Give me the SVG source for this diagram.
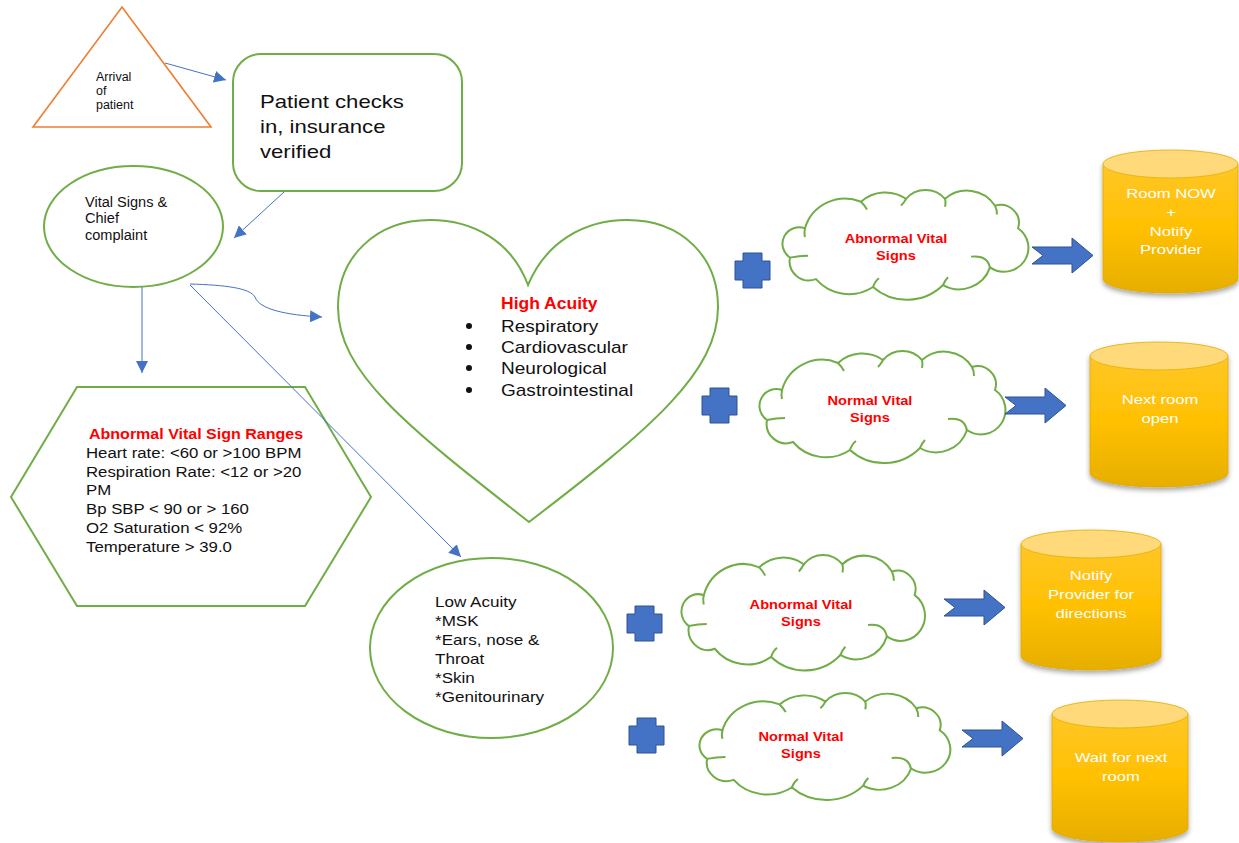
<svg xmlns="http://www.w3.org/2000/svg" width="1239" height="843" viewBox="0 0 1239 843">
<defs>
<style>
.g{fill:#fff;stroke:#70AD47;stroke-width:2}
.t{font-family:"Liberation Sans",Arial,sans-serif;fill:#111}
.red{fill:#FF0000;font-weight:bold}
.w{fill:#fff;font-family:"Liberation Sans",Arial,sans-serif;font-size:13px;text-anchor:middle}
.conn{fill:none;stroke:#4472C4;stroke-width:1}
.plus{fill:#4472C4;stroke:#2F528F;stroke-width:1}
.barrow{fill:#4472C4;stroke:#2F528F;stroke-width:1}
.cl{fill:#fff;stroke:#70AD47;stroke-width:2}
.cli{fill:none;stroke:#70AD47;stroke-width:2}
</style>
<marker id="ah" viewBox="0 0 10 10" refX="10" refY="5" markerWidth="12" markerHeight="12" markerUnits="userSpaceOnUse" orient="auto">
<path d="M0,0 L10,5 L0,10 Z" fill="#4472C4"/>
</marker>
<linearGradient id="cylg" x1="0" y1="0" x2="0" y2="1">
<stop offset="0" stop-color="#FFC728"/>
<stop offset="0.5" stop-color="#FFC000"/>
<stop offset="1" stop-color="#E6AE00"/>
</linearGradient>
<filter id="sh" x="-10%" y="-10%" width="120%" height="130%">
<feDropShadow dx="0" dy="3" stdDeviation="2.5" flood-color="#000" flood-opacity="0.35"/>
</filter>
<path id="cloud" d="M7,69 A16.9 16.9 0 0 1 22,39 A41.5 41.5 0 0 1 78,12 A36 36 0 0 1 123,9 A25.6 25.6 0 0 1 162,9 A33.2 33.2 0 0 1 212,16 A18.3 18.3 0 0 1 235,39 A24.4 24.4 0 0 1 207,79 A32.5 32.5 0 0 1 160,97 A50.7 50.7 0 0 1 90,99 A43.2 43.2 0 0 1 33,91 A19.5 19.5 0 0 1 7,69 Z"/>
<path id="cloudin" d="M7,69 Q16,67 25,67 M22,39 Q21,44 22,48 M78,12 Q82,16 84,20 M123,9 Q121,13 118,16 M162,9 Q163,13 162,17 M212,16 Q214,20 214,25 M188,68 Q205,66 207,80 M160,97 Q162,92 165,89 M90,99 Q92,93 96,90"/>
<path id="plusshape" d="M8,0 H27 V8 H35 V27 H27 V35 H8 V27 H0 V8 H8 Z"/>
<path id="barrowshape" d="M0,9 H40 V0 L61,17.5 L40,35 V26 H0 L11,17.5 Z"/>
</defs>
<rect width="1239" height="843" fill="#fff"/>

<g id="arrival">
<polygon points="122,7 211,127 33,127" fill="#fff" stroke="#ED7D31" stroke-width="1.6"/>
<text class="t" font-size="12" transform="matrix(1.04,0,0,1,-3.84,0)"><tspan x="96" y="81">Arrival</tspan><tspan x="96" y="95">of</tspan><tspan x="96" y="109">patient</tspan></text>
</g>

<g id="checkin">
<rect class="g" x="233" y="54" width="229" height="137" rx="28"/>
<text class="t" font-size="18.6" transform="matrix(1.19,0,0,1,-49.4,0)"><tspan x="260" y="108">Patient checks</tspan><tspan x="260" y="133">in, insurance</tspan><tspan x="260" y="158">verified</tspan></text>
</g>

<g id="vitals">
<ellipse class="g" cx="133.5" cy="226.5" rx="89.5" ry="60.5"/>
<text class="t" font-size="14" transform="matrix(1.04,0,0,1,-3.4,0)"><tspan x="85" y="207">Vital Signs &amp;</tspan><tspan x="85" y="223">Chief</tspan><tspan x="85" y="240">complaint</tspan></text>
</g>

<g id="ranges">
<polygon class="g" points="77,387 305,387 371,497 305,606 77,606 11,497"/>
<text class="t red" font-size="15.4" x="89" y="439" transform="matrix(1.04,0,0,1,-3.56,0)">Abnormal Vital Sign Ranges</text>
<text class="t" font-size="15.4" transform="matrix(1.09,0,0,1,-7.74,0)"><tspan x="86" y="458">Heart rate: &lt;60 or &gt;100 BPM</tspan><tspan x="86" y="477">Respiration Rate: &lt;12 or &gt;20</tspan><tspan x="86" y="495">PM</tspan><tspan x="86" y="514">Bp SBP &lt; 90 or &gt; 160</tspan><tspan x="86" y="533">O2 Saturation &lt; 92%</tspan><tspan x="86" y="552">Temperature &gt; 39.0</tspan></text>
</g>

<g id="high">
<path class="g" d="M528,285 C512,242 474,220 430,220 C375,220 338,258 338,307 C338,372 405,425 529,522 C652,428 718,372 718,307 C718,258 683,220 627,220 C584,220 546,242 528,285 Z"/>
<g fill="#111"><circle cx="469" cy="326" r="3"/><circle cx="469" cy="347" r="3"/><circle cx="469" cy="368" r="3"/><circle cx="469" cy="390" r="3"/></g>
<text class="t red" font-size="17" x="501" y="309" transform="matrix(1.03,0,0,1,-15.03,0)">High Acuity</text>
<text class="t" font-size="17" transform="matrix(1.12,0,0,1,-60.12,0)"><tspan x="501" y="332">Respiratory</tspan><tspan x="501" y="353">Cardiovascular</tspan><tspan x="501" y="374">Neurological</tspan><tspan x="501" y="396">Gastrointestinal</tspan></text>
</g>

<g id="low">
<ellipse class="g" cx="491.5" cy="648" rx="121.5" ry="90"/>
<text class="t" font-size="14" transform="matrix(1.22,0,0,1,-95.7,0)"><tspan x="435" y="607">Low Acuity</tspan><tspan x="435" y="626">*MSK</tspan><tspan x="435" y="645">*Ears, nose &amp;</tspan><tspan x="435" y="664">Throat</tspan><tspan x="435" y="683">*Skin</tspan><tspan x="435" y="702">*Genitourinary</tspan></text>
</g>

<g id="plus1"><use href="#plusshape" class="plus" transform="translate(735,253)"/></g>
<g id="plus2"><use href="#plusshape" class="plus" transform="translate(702,388)"/></g>
<g id="plus3"><use href="#plusshape" class="plus" transform="translate(627,606)"/></g>
<g id="plus4"><use href="#plusshape" class="plus" transform="translate(629,718)"/></g>

<g id="cloud1">
<g transform="translate(783,190) scale(1.0,0.98)"><use href="#cloud" class="cl"/><use href="#cloudin" class="cli"/></g>
<text class="t red" font-size="12.6" text-anchor="middle" transform="matrix(1.16,0,0,1,-143.36,0)"><tspan x="896" y="243">Abnormal Vital</tspan><tspan x="896" y="260">Signs</tspan></text>
</g>
<g id="cloud2">
<g transform="translate(760,351)"><use href="#cloud" class="cl"/><use href="#cloudin" class="cli"/></g>
<text class="t red" font-size="12.6" text-anchor="middle" transform="matrix(1.16,0,0,1,-139.2,0)"><tspan x="870" y="405">Normal Vital</tspan><tspan x="870" y="422">Signs</tspan></text>
</g>
<g id="cloud3">
<g transform="translate(682,555) scale(0.99,1.03)"><use href="#cloud" class="cl"/><use href="#cloudin" class="cli"/></g>
<text class="t red" font-size="12.6" text-anchor="middle" transform="matrix(1.16,0,0,1,-128.16,0)"><tspan x="801" y="609">Abnormal Vital</tspan><tspan x="801" y="626">Signs</tspan></text>
</g>
<g id="cloud4">
<g transform="translate(700,693) scale(1.02,0.955)"><use href="#cloud" class="cl"/><use href="#cloudin" class="cli"/></g>
<text class="t red" font-size="12.6" text-anchor="middle" transform="matrix(1.16,0,0,1,-128.16,0)"><tspan x="801" y="741">Normal Vital</tspan><tspan x="801" y="758">Signs</tspan></text>
</g>

<g id="barrow1"><use href="#barrowshape" class="barrow" transform="translate(1032,238)"/></g>
<g id="barrow2"><use href="#barrowshape" class="barrow" transform="translate(1005,388)"/></g>
<g id="barrow3"><use href="#barrowshape" class="barrow" transform="translate(944,590)"/></g>
<g id="barrow4"><use href="#barrowshape" class="barrow" transform="translate(962,721)"/></g>

<g id="cyl1">
<g filter="url(#sh)">
<path d="M1103,164 V279 A67.5,14 0 0 0 1238,279 V164 Z" fill="url(#cylg)" stroke="#E0A800" stroke-width="0.8"/>
<ellipse cx="1170.5" cy="164" rx="67.5" ry="14" fill="#FFD97A" stroke="#E0B000" stroke-width="0.8"/>
</g>
<text class="w" transform="matrix(1.28,0,0,1,-327.88,0)"><tspan x="1171" y="198">Room NOW</tspan><tspan x="1171" y="217">+</tspan><tspan x="1171" y="236">Notify</tspan><tspan x="1171" y="254">Provider</tspan></text>
</g>

<g id="cyl2">
<g filter="url(#sh)">
<path d="M1090,356 V473 A69,14 0 0 0 1228,473 V356 Z" fill="url(#cylg)" stroke="#E0A800" stroke-width="0.8"/>
<ellipse cx="1159" cy="356" rx="69" ry="14" fill="#FFD97A" stroke="#E0B000" stroke-width="0.8"/>
</g>
<text class="w" transform="matrix(1.28,0,0,1,-324.8,0)"><tspan x="1160" y="404">Next room</tspan><tspan x="1160" y="423">open</tspan></text>
</g>

<g id="cyl3">
<g filter="url(#sh)">
<path d="M1021,544 V656 A70,14 0 0 0 1161,656 V544 Z" fill="url(#cylg)" stroke="#E0A800" stroke-width="0.8"/>
<ellipse cx="1091" cy="544" rx="70" ry="14" fill="#FFD97A" stroke="#E0B000" stroke-width="0.8"/>
</g>
<text class="w" transform="matrix(1.28,0,0,1,-305.48,0)"><tspan x="1091" y="580">Notify</tspan><tspan x="1091" y="599">Provider for</tspan><tspan x="1091" y="618">directions</tspan></text>
</g>

<g id="cyl4">
<g filter="url(#sh)">
<path d="M1052,714 V828 A68,14 0 0 0 1188,828 V714 Z" fill="url(#cylg)" stroke="#E0A800" stroke-width="0.8"/>
<ellipse cx="1120" cy="714" rx="68" ry="14" fill="#FFD97A" stroke="#E0B000" stroke-width="0.8"/>
</g>
<text class="w" transform="matrix(1.28,0,0,1,-313.88,0)"><tspan x="1121" y="762">Wait for next</tspan><tspan x="1121" y="781">room</tspan></text>
</g>

<g id="connectors">
<path class="conn" d="M165,63 L226,80" marker-end="url(#ah)"/>
<path class="conn" d="M284,192 L234,238" marker-end="url(#ah)"/>
<path class="conn" d="M142,287 L142,373" marker-end="url(#ah)"/>
<path class="conn" d="M190,284 C225,285 250,288 255,297 C259,309 285,315 322,317" marker-end="url(#ah)"/>
<path class="conn" d="M190,285 L461,557" marker-end="url(#ah)"/>
</g>
</svg>
